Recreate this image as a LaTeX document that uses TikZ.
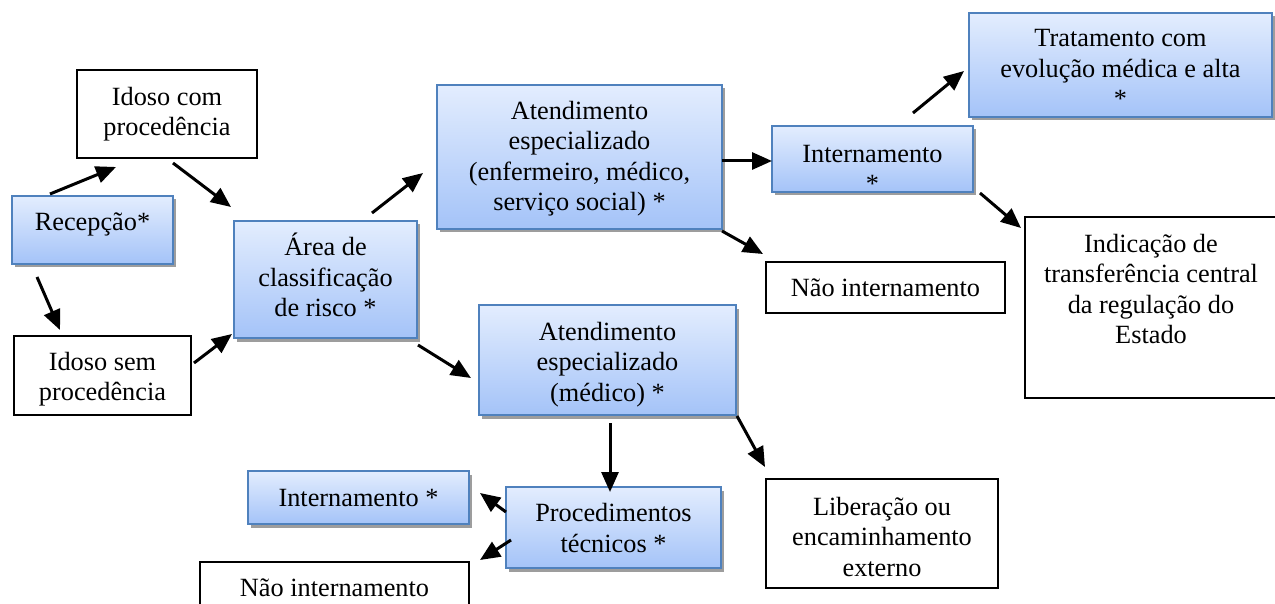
\documentclass[tikz,border=0pt]{standalone}
\usepackage{fontspec}
\setmainfont{Liberation Serif}
\usetikzlibrary{arrows.meta,shadows}
\definecolor{bluetop}{RGB}{227,237,254}
\definecolor{bluebot}{RGB}{164,195,248}
\definecolor{blueedge}{RGB}{79,129,189}
\begin{document}
\begin{tikzpicture}[x=1pt,y=-1pt,
  boxbase/.style={rectangle, inner sep=0pt, outer sep=0pt},
  bluebox/.style={boxbase, draw=blueedge, line width=1.6pt, top color=bluetop, bottom color=bluebot,
     drop shadow={shadow xshift=3pt, shadow yshift=-3.5pt, fill=black!45, opacity=0.85}},
  whitebox/.style={boxbase, draw=black, line width=1.1pt, fill=white},
  txt/.style={inner sep=0pt, align=center, font=\fontsize{26.3}{30.5}\selectfont},
  arr/.style={-{Triangle[length=20pt,width=17pt]}, line width=3pt}]
\useasboundingbox (0,0) rectangle (1275,604);
\clip (0,0) rectangle (1275,604);

% boxes
\node[bluebox, minimum width=161, minimum height=68] (rec) at (92.5,230) {};
\node[whitebox, minimum width=180, minimum height=88] (idc) at (167,114) {};
\node[whitebox, minimum width=177, minimum height=79] (ids) at (102.5,375.5) {};
\node[bluebox, minimum width=183, minimum height=117] (area) at (325.5,279.5) {};
\node[bluebox, minimum width=285, minimum height=144] (at1) at (579.5,157) {};
\node[bluebox, minimum width=201, minimum height=66] (int1) at (872.5,159) {};
\node[bluebox, minimum width=303, minimum height=104] (trat) at (1120.5,65) {};
\node[whitebox, minimum width=239, minimum height=51] (nao1) at (885.5,287.5) {};
\node[whitebox, minimum width=260, minimum height=181] (indic) at (1155,307.5) {};
\node[bluebox, minimum width=257, minimum height=110] (at2) at (607.5,360) {};
\node[bluebox, minimum width=215, minimum height=81] (proc) at (613.5,527.5) {};
\node[whitebox, minimum width=232, minimum height=109] (lib) at (882,533.5) {};
\node[bluebox, minimum width=221, minimum height=53] (int2) at (358.5,497.5) {};
\node[whitebox, minimum width=269, minimum height=58] (nao2) at (334.5,591) {};

% texts
\node[txt] (recT) at (92.5,224.9) {\strut Recepção*};
\node[txt] (idcT) at (167,114.2) {\strut Idoso com\\\strut procedência};
\node[txt] (idsT) at (102.5,379.2) {\strut Idoso sem\\\strut procedência};
\node[txt] (areaT) at (325.5,279.4) {\strut Área de\\\strut classificação\\\strut de risco *};
\node[txt] (at1T) at (579.5,158.7) {\strut Atendimento\\\strut especializado\\\strut (enfermeiro, médico,\\\strut serviço social) *};
\node[txt] (int1T) at (872.5,171.2) {\strut Internamento\\\strut *};
\node[txt] (tratT) at (1120.5,71.4) {\strut Tratamento com\\\strut evolução médica e alta\\\strut *};
\node[txt] (nao1T) at (885.5,289.9) {\strut Não internamento};
\node[txt] (indicT) at (1151,291.7) {\strut Indicação de\\\strut transferência central\\\strut da regulação do\\\strut Estado};
\node[txt] (at2T) at (607.5,364.4) {\strut Atendimento\\\strut especializado\\\strut (médico) *};
\node[txt] (procT) at (613.5,530.8) {\strut Procedimentos\\\strut técnicos *};
\node[txt] (libT) at (882,539.4) {\strut Liberação ou\\\strut encaminhamento\\\strut externo};
\node[txt] (int2T) at (358.5,500.6) {\strut Internamento *};
\node[txt] (nao2T) at (334.5,590.6) {\strut Não internamento};

% connectors
\draw[arr] ([shift={(38,-2)}]rec.north west) -- ([shift={(39,9)}]idc.south west);
\draw[arr] ([shift={(6,5)}]idc.south) -- ([shift={(-3,-14)}]area.north west);
\draw[arr] ([shift={(25,13)}]rec.south west) -- ([shift={(46,-6)}]ids.north west);
\draw[arr] ([shift={(3,27)}]ids.north east) -- ([shift={(-2,-4)}]area.south west);
\draw[arr] ([shift={(-45,-8)}]area.north east) -- ([shift={(-14,-56)}]at1.south west);
\draw[arr] ([shift={(0,4)}]at1.east) -- ([shift={(0,2)}]int1.west);
\draw[arr] ([shift={(0,2)}]at1.south east) -- ([shift={(-3,-8)}]nao1.north west);
\draw[arr] ([shift={(40.5,-13)}]int1.north) -- ([shift={(-5,-46)}]trat.south west);
\draw[arr] ([shift={(7,1)}]int1.south east) -- ([shift={(-4,11)}]indic.north west);
\draw[arr] ([shift={(1,7)}]area.south east) -- ([shift={(-8,73)}]at2.north west);
\draw[arr] ([shift={(2.5,8)}]at2.south) -- ([shift={(-3.5,5)}]proc.north);
\draw[arr] ([shift={(1,1)}]at2.south east) -- ([shift={(-1,-12)}]lib.north west);
\draw[arr] ([shift={(0,25)}]proc.north west) -- ([shift={(11,22)}]int2.north east);
\draw[arr] ([shift={(5,-28)}]proc.south west) -- ([shift={(11,-2)}]nao2.north east);
\end{tikzpicture}
\end{document}
